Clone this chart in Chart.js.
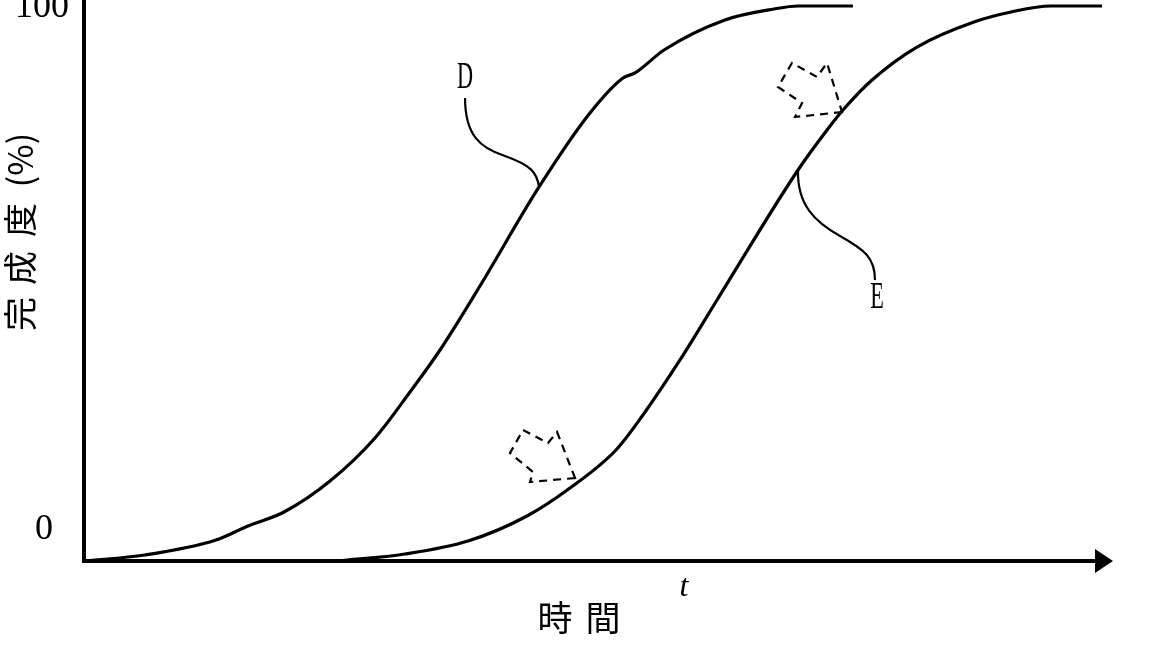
<!DOCTYPE html>
<html>
<head>
<meta charset="utf-8">
<script src="https://cdn.jsdelivr.net/npm/chart.js@4"></script>
<style>
  html, body { margin: 0; padding: 0; background: #fff; }
</style>
</head>
<body>
<canvas id="fig" width="1170" height="650"></canvas>
<script>
// curve D (earlier) - time vs completion %
const dTime = [0, 5.93, 12.83, 15.94, 19.44, 23.91, 28.28, 31.68, 34.60, 38.48, 44.22, 49.17, 52.38, 53.55, 56.37, 62.29, 67.06, 69.39, 74.73];
const dDone = [0, 1.08, 3.78, 6.31, 8.83, 14.41, 22.16, 30.45, 38.02, 49.55, 67.39, 80.72, 87.03, 87.93, 92.07, 97.48, 99.46, 100, 100];
// curve E (later)
const eTime = [24.68, 31.20, 37.32, 43.05, 47.23, 51.70, 54.32, 57.92, 61.52, 69.39, 72.21, 73.76, 76.58, 80.95, 86.49, 90.09, 93.97, 98.93];
const eDone = [0, 1.26, 3.60, 8.11, 13.15, 20.0, 26.31, 36.22, 47.03, 70.45, 77.66, 81.26, 86.67, 92.61, 97.12, 98.92, 100, 100];

const yTickValues = [0, 100];
const yTickLabels = ['0', '100'];
const yTitle = ['完', '成', '度', '(%)'];
const xTitle = ['時', '間'];
const xSymbol = 't';
const curveNames = ['D', 'E'];

function pts(xs, ys) {
    return xs.map((x, i) => ({ x: x, y: ys[i] }));
}

const SERIF = "'Liberation Serif', 'DejaVu Serif', serif";
const CJK = "'Noto Sans CJK JP', 'Noto Sans CJK TC', sans-serif";

// axes, arrow, labels, leaders, dashed arrows
const figurePlugin = {
    id: 'figure',
    beforeDatasetsDraw(chart) {
        const ctx = chart.ctx;
        const xs = chart.scales.x, ys = chart.scales.y;
        const x0 = xs.getPixelForValue(0), y0 = ys.getPixelForValue(0);
        const xEnd = xs.getPixelForValue(100);
        ctx.save();
        ctx.strokeStyle = '#000';
        ctx.fillStyle = '#000';
        ctx.lineWidth = 4;
        ctx.beginPath();
        ctx.moveTo(x0, 0);
        ctx.lineTo(x0, y0 + 2);
        ctx.moveTo(x0, y0);
        ctx.lineTo(xEnd - 17, y0);
        ctx.stroke();
        // arrow head
        ctx.beginPath();
        ctx.moveTo(xEnd, y0);
        ctx.lineTo(xEnd - 18, y0 - 12);
        ctx.lineTo(xEnd - 18, y0 + 12);
        ctx.closePath();
        ctx.fill();
        ctx.restore();
    },
    afterDatasetsDraw(chart) {
        const ctx = chart.ctx;
        const xs = chart.scales.x, ys = chart.scales.y;
        const X = t => xs.getPixelForValue(t);
        const Y = v => ys.getPixelForValue(v);
        const x0 = X(0), y0 = Y(0);
        ctx.save();
        ctx.fillStyle = '#000';
        ctx.strokeStyle = '#000';
        ctx.textAlign = 'center';
        ctx.textBaseline = 'middle';

        // y tick labels
        ctx.font = '36px ' + SERIF;
        ctx.fillText(yTickLabels[0], x0 - 40, Y(yTickValues[0]) - 31);
        ctx.fillText(yTickLabels[1], x0 - 42, Y(yTickValues[1]) + 2);

        // y title, rotated
        const yPos = [314, 268, 220, 160];
        ctx.font = '34px ' + CJK;
        yTitle.forEach((s, i) => {
            ctx.save();
            ctx.translate(x0 - 64, yPos[i]);
            ctx.rotate(-Math.PI / 2);
            ctx.fillText(s, 0, 0);
            ctx.restore();
        });

        // x title
        ctx.font = '35px ' + CJK;
        ctx.fillText(xTitle[0], 555, y0 + 57);
        ctx.fillText(xTitle[1], 603, y0 + 57);
        ctx.font = 'italic 32px ' + SERIF;
        ctx.fillText(xSymbol, 684, y0 + 27);

        // curve names, narrow serif
        ctx.font = '37px ' + SERIF;
        [[curveNames[0], 37.03, 87.03], [curveNames[1], 77.06, 47.39]].forEach(([s, t, v]) => {
            ctx.save();
            ctx.translate(X(t), Y(v));
            ctx.scale(0.6, 1);
            ctx.fillText(s, 0, 0);
            ctx.restore();
        });

        // leader lines
        ctx.lineWidth = 2.2;
        ctx.beginPath();
        ctx.moveTo(X(37.03), Y(83.42));
        ctx.bezierCurveTo(X(37.03), Y(76.76), X(38.48), Y(74.41), X(40.91), Y(72.97));
        ctx.bezierCurveTo(X(43.34), Y(71.35), X(44.02), Y(70.13), X(44.22), Y(67.39));
        ctx.moveTo(X(69.39), Y(70.45));
        ctx.bezierCurveTo(X(69.29), Y(64.14), X(71.04), Y(61.08), X(73.47), Y(58.56));
        ctx.bezierCurveTo(X(75.90), Y(56.04), X(76.87), Y(54.59), X(76.87), Y(50.63));
        ctx.stroke();

        // dashed arrows pointing at curve E
        const arrows = [
            [[47.72, 14.95], [43.34, 14.23], [43.63, 16.04], [41.40, 19.46], [42.66, 23.60], [45.09, 21.26], [45.97, 23.24]],
            [[73.66, 80.90], [69.10, 80.0], [69.78, 82.52], [67.44, 85.41], [68.80, 89.73], [71.23, 87.21], [72.21, 89.73]]
        ];
        ctx.lineWidth = 2.2;
        ctx.setLineDash([8, 6]);
        arrows.forEach(a => {
            ctx.beginPath();
            a.forEach(([t, v], i) => i ? ctx.lineTo(X(t), Y(v)) : ctx.moveTo(X(t), Y(v)));
            ctx.closePath();
            ctx.stroke();
        });
        ctx.restore();
    }
};

new Chart(document.getElementById('fig').getContext('2d'), {
    type: 'line',
    data: {
        datasets: [
            { label: 'D', data: pts(dTime, dDone) },
            { label: 'E', data: pts(eTime, eDone) },
        ],
    },
    options: {
        responsive: false,
        animation: false,
        devicePixelRatio: 1,
        layout: { padding: { left: 84, right: 57, top: 6, bottom: 89 } },
        elements: {
            line: { borderColor: '#000', borderWidth: 3.2, cubicInterpolationMode: 'monotone', fill: false },
            point: { radius: 0 },
        },
        datasets: { line: { clip: 10 } },
        plugins: { legend: { display: false }, tooltip: { enabled: false } },
        scales: {
            x: { type: 'linear', min: 0, max: 100, display: false },
            y: { min: 0, max: 100, display: false },
        },
    },
    plugins: [figurePlugin],
});
</script>
</body>
</html>
